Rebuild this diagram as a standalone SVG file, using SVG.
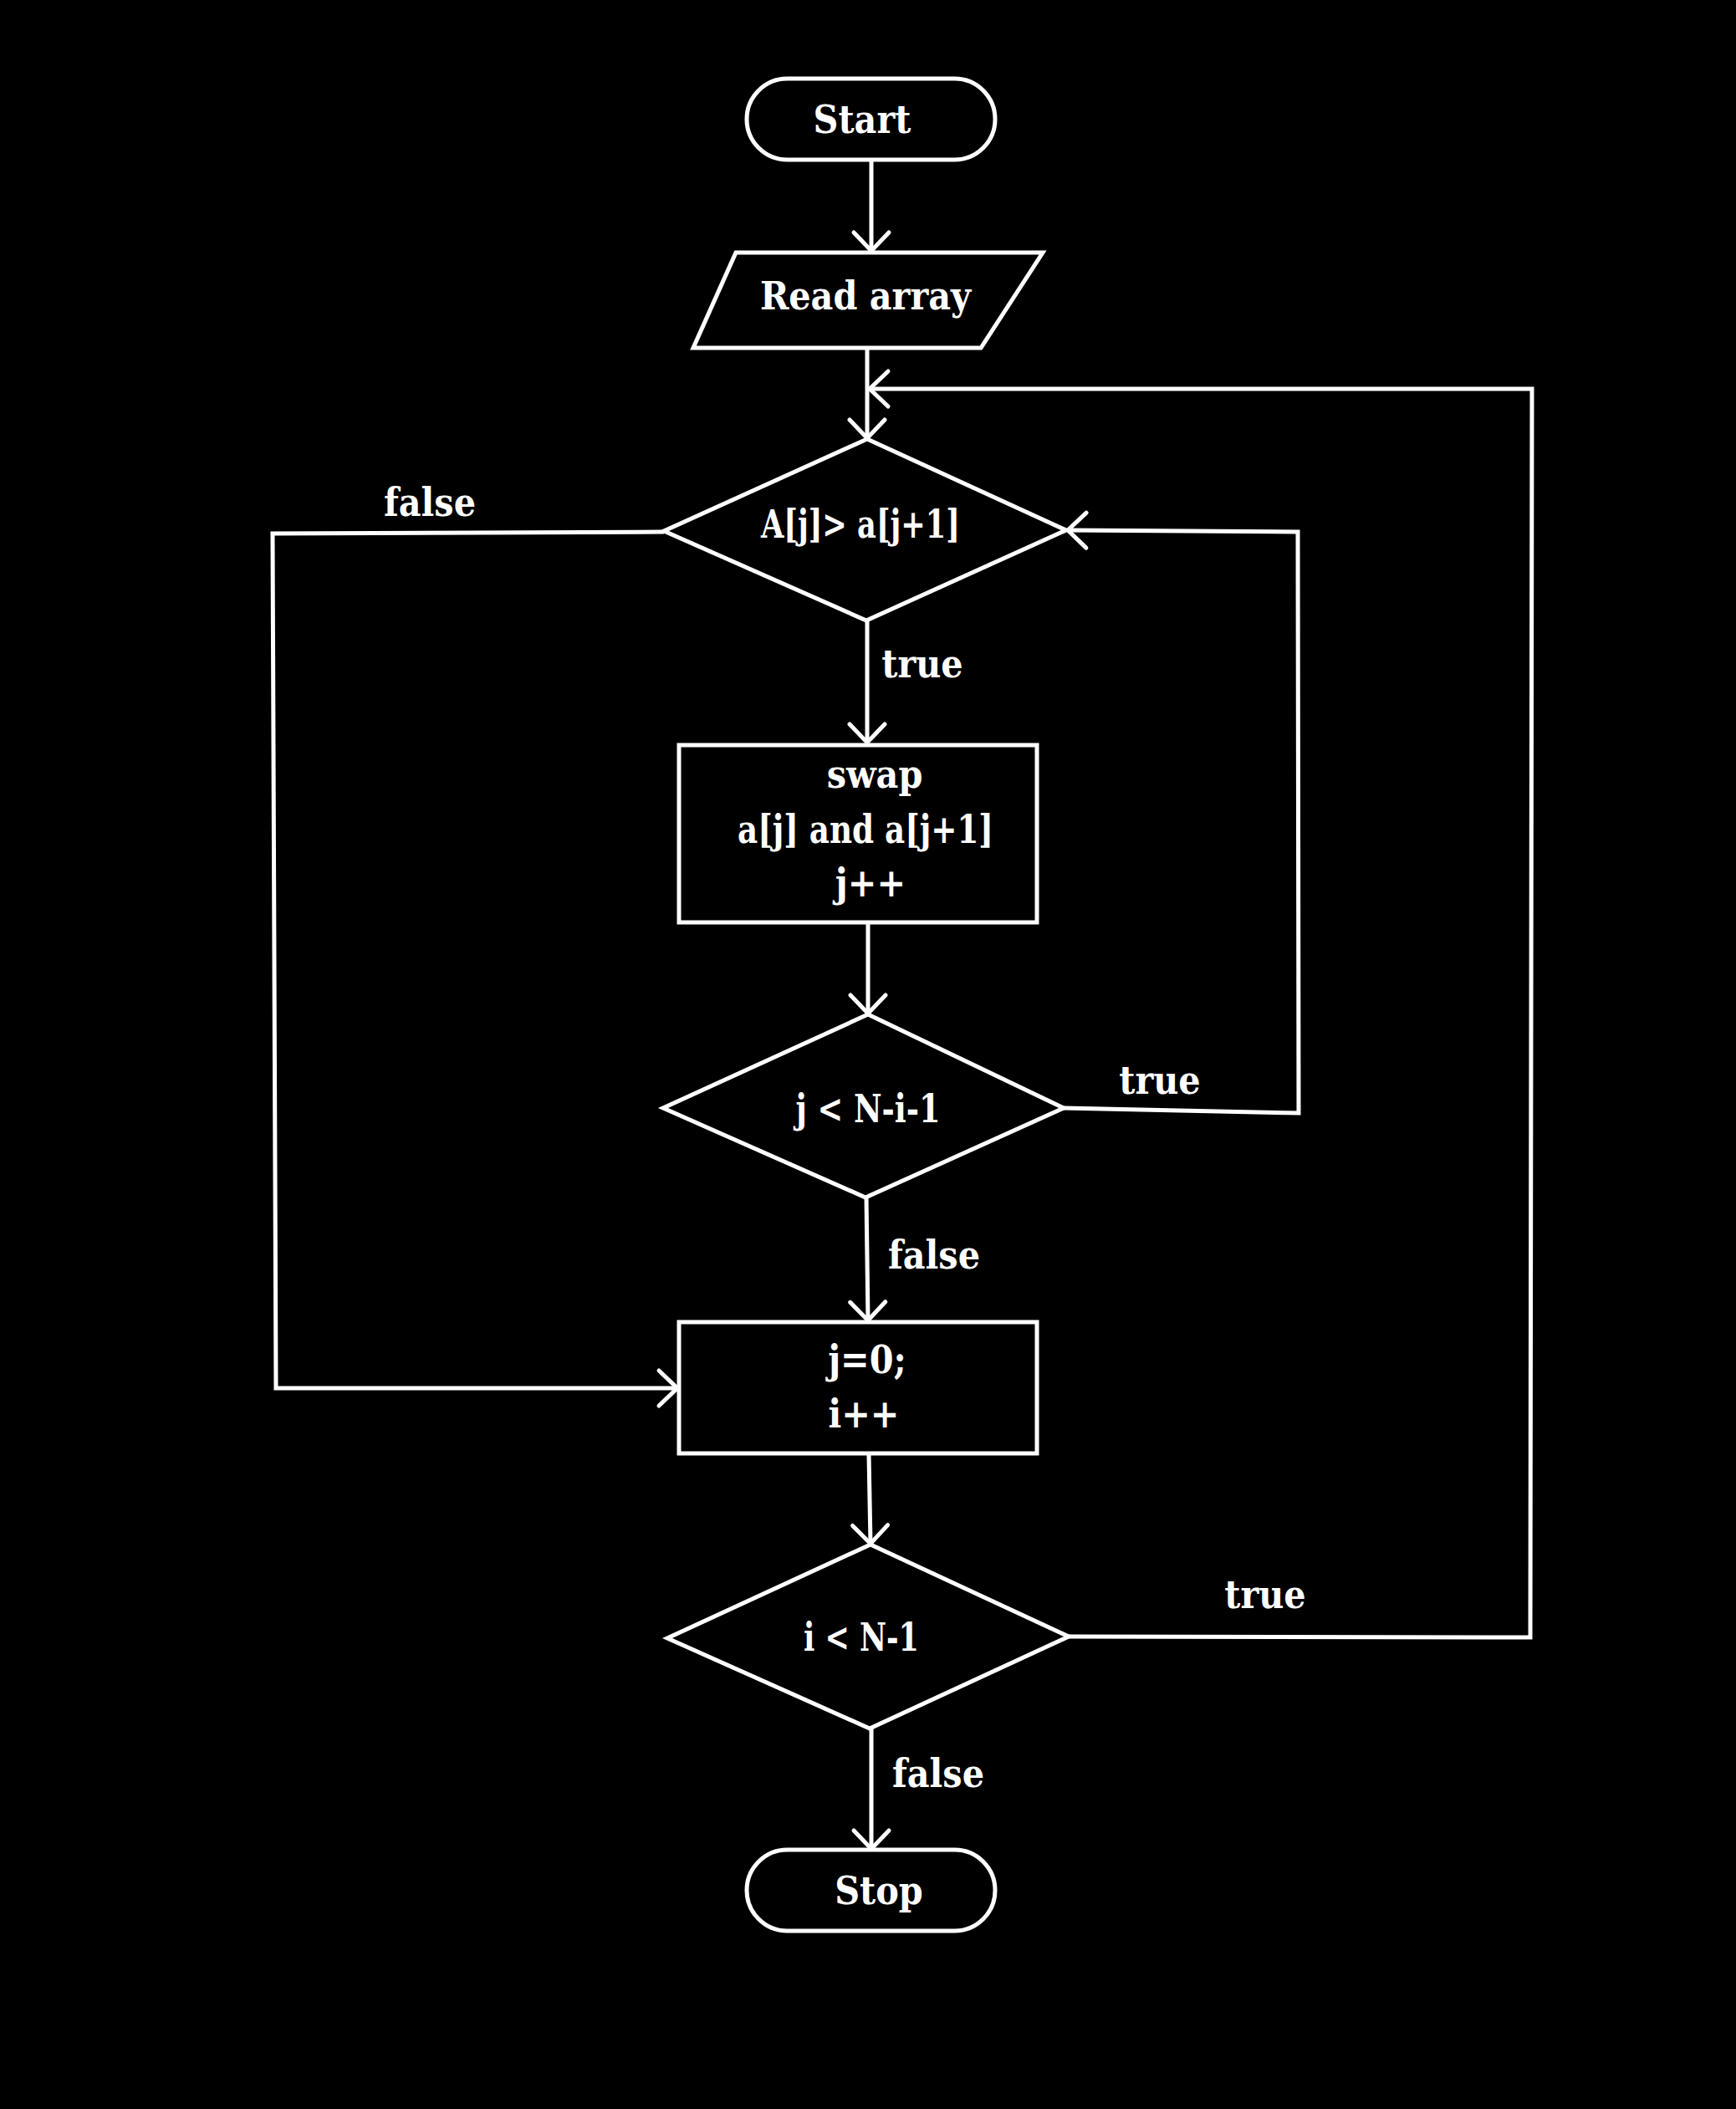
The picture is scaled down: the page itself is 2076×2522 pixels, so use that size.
<svg xmlns="http://www.w3.org/2000/svg" width="2076" height="2522" viewBox="0 0 2076 2522">
<defs>
<style>
.shape{fill:#000;stroke:#fff;stroke-width:5}
.conn{fill:none;stroke:#fff;stroke-width:5;stroke-linejoin:miter}
text{fill:#fff;font-family:"DejaVu Serif Condensed","DejaVu Serif",serif;font-weight:bold;font-size:46px;text-anchor:middle}
</style>
<marker id="arr" markerUnits="userSpaceOnUse" markerWidth="60" markerHeight="60" viewBox="-30 -30 60 60" refX="0" refY="0" orient="auto">
<path d="M-22,-21 L0,0 L-22,21" fill="none" stroke="#fff" stroke-width="5" stroke-linecap="round"/>
</marker>
</defs>
<rect x="0" y="0" width="2076" height="2522" fill="#000"/>
<g id="connectors">
<polyline class="conn" points="1042,191 1042,300" marker-end="url(#arr)"/>
<polyline class="conn" points="1037,416 1037,524" marker-end="url(#arr)"/>
<polyline class="conn" points="794,636 326,638 330,1660 810,1660" marker-end="url(#arr)"/>
<polyline class="conn" points="1037,742 1037,888" marker-end="url(#arr)"/>
<polyline class="conn" points="1038,1105 1038,1212" marker-end="url(#arr)"/>
<polyline class="conn" points="1272,1325 1553,1331 1552,636 1277,634" marker-end="url(#arr)"/>
<polyline class="conn" points="1036,1432 1038,1579" marker-end="url(#arr)"/>
<polyline class="conn" points="1039,1739 1041,1846" marker-end="url(#arr)"/>
<polyline class="conn" points="1278,1957 1830,1958 1832,465 1040,465" marker-end="url(#arr)"/>
<polyline class="conn" points="1042,2067 1042,2211" marker-end="url(#arr)"/>
<text x="514" y="617">false</text>
<text x="1103" y="810">true</text>
<text x="1387" y="1308">true</text>
<text x="1117" y="1517">false</text>
<text x="1513" y="1923">true</text>
<text x="1122" y="2137">false</text>
</g>
<g id="start">
<rect class="shape" x="893" y="94" width="297" height="97" rx="48.5"/>
<text x="1031" y="159">Start</text>
</g>
<g id="read">
<polygon class="shape" points="880,302 1247,302 1173,416 829,416"/>
<text x="1035" y="370">Read array</text>
</g>
<g id="cond1">
<polygon class="shape" points="1037,525 1275,634 1036,742 794,635"/>
<text x="1029" y="643" textLength="238" lengthAdjust="spacingAndGlyphs">A[j]&gt; a[j+1]</text>
</g>
<g id="swap">
<rect class="shape" x="812" y="891" width="428" height="212"/>
<text x="1046" y="942">swap</text>
<text x="1035" y="1008" textLength="306" lengthAdjust="spacingAndGlyphs">a[j] and a[j+1]</text>
<text x="1041" y="1072">j++</text>
</g>
<g id="cond2">
<polygon class="shape" points="1038,1213 1272,1325 1035,1432 793,1325"/>
<text x="1038" y="1342" textLength="173" lengthAdjust="spacingAndGlyphs">j &lt; N-i-1</text>
</g>
<g id="reset">
<rect class="shape" x="812" y="1581" width="428" height="157"/>
<text x="1037" y="1642">j=0;</text>
<text x="1033" y="1707">i++</text>
</g>
<g id="cond3">
<polygon class="shape" points="1041,1847 1278,1957 1040,2067 798,1959"/>
<text x="1030" y="1974" textLength="138" lengthAdjust="spacingAndGlyphs">i &lt; N-1</text>
</g>
<g id="stop">
<rect class="shape" x="893" y="2212" width="297" height="97" rx="48.5"/>
<text x="1051" y="2277">Stop</text>
</g>
</svg>
